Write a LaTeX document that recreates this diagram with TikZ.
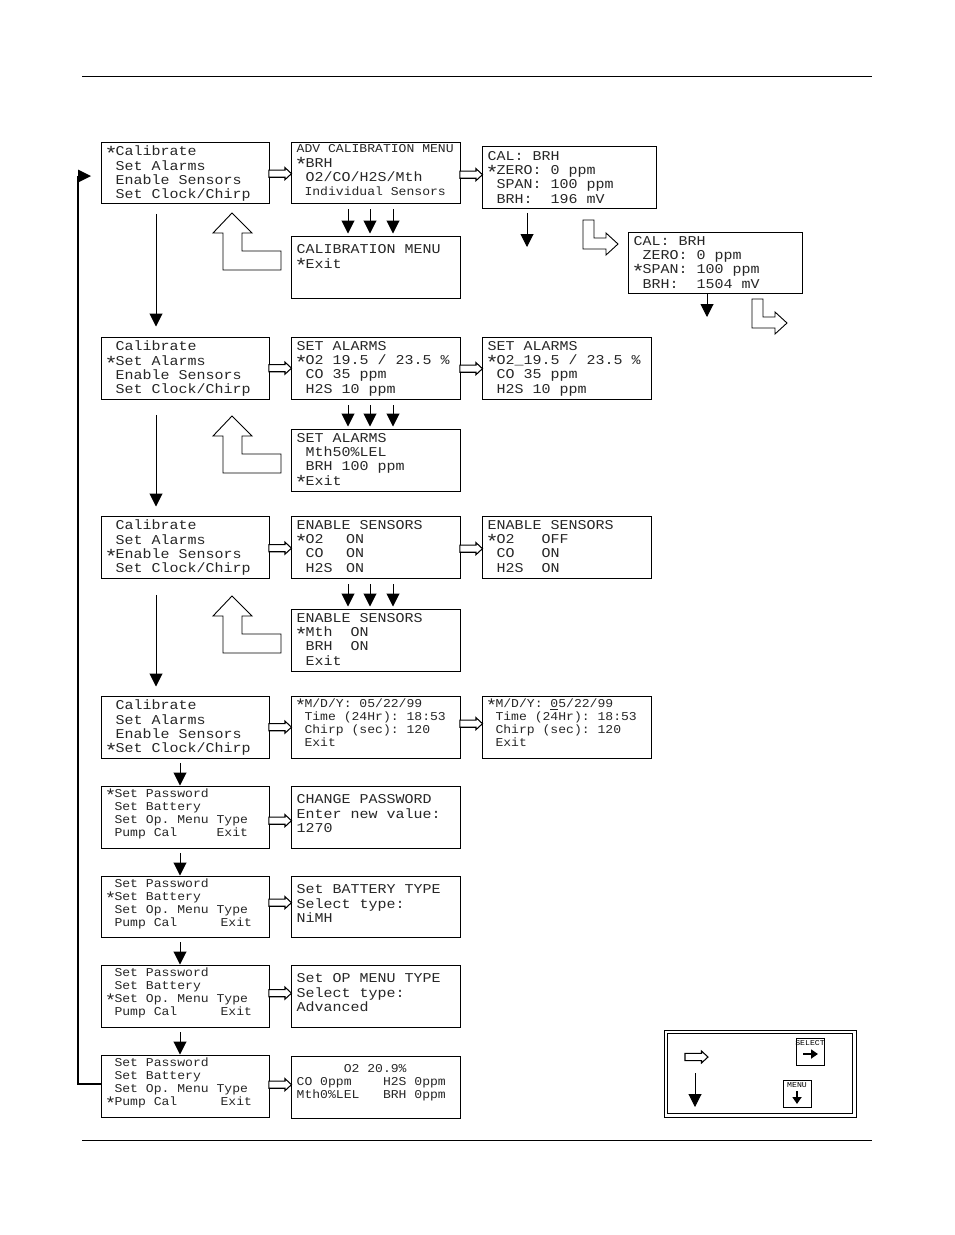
\documentclass[tikz,border=0pt]{standalone}
\usepackage{fontspec}
\usepackage{graphicx}
\usetikzlibrary{calc,arrows.meta}
\newfontfamily\famA[FakeStretch=1.11]{Liberation Mono}
\newfontfamily\famB[FakeStretch=1.09]{Liberation Mono}
\newcommand\fA{\famA\fontsize{13.5}{14.3}\selectfont\frenchspacing}
\newcommand\fB{\famB\fontsize{12}{13}\selectfont\frenchspacing}
\newcommand\fBb{\famB\fontsize{12}{14.3}\selectfont\frenchspacing}
\newcommand\st{\setbox0\hbox{*}\hbox to \wd0{\hss\smash{\raisebox{-0.36em}{\scalebox{1.45}{*}}}\hss}}
\tikzset{
  lcd/.style={draw=black,line width=1pt,inner sep=0pt},
  lcdtext/.style={anchor=north west,inner sep=0pt,align=left,text=black!85},
  big/.style={lcdtext,font=\fA,yshift=-1.5pt},
  small/.style={lcdtext,font=\fB},
  hollowarrow/.style={draw=black,line width=1.05pt,fill=white},
  bendarrow/.style={draw=black,line width=0.9pt,fill=white},
  down/.style={draw=black,line width=1pt,-{Triangle[length=13pt,width=13pt]}},
  rule/.style={draw=black,line width=1pt},
  keybox/.style={draw=black,line width=1pt,minimum width=28pt,minimum height=27pt,inner sep=0pt},
  keytext/.style={font=\famB\fontsize{7.5}{8}\selectfont,inner sep=0pt},
  keyarrow/.style={line width=2pt,-{Triangle[length=7pt,width=9pt]}}
}
% name x0 y0 x1 y1
\newcommand\lcdbox[5]{\node[lcd,minimum width={(#4-#2-0.7)*1pt},minimum height={(#5-#3-0.7)*1pt}] (#1) at ({(#2+#4-0.7)/2},{(#3+#5-0.7)/2}) {};}
\newcommand\lcdt[3]{\node[#2] (#1t) at ([shift={(6pt,-3pt)}]#1.north west) {#3};}
\newcommand\hollowshape{\draw[hollowarrow] ([yshift=3.6pt]hoS) -- ([shift={(-6.5pt,3.6pt)}]hoE) -- ([shift={(-6.5pt,6pt)}]hoE) -- (hoE) -- ([shift={(-6.5pt,-6pt)}]hoE) -- ([shift={(-6.5pt,-3.6pt)}]hoE) -- ([yshift=-3.6pt]hoS) -- cycle;}
\newcommand\hollow[3][0]{\path let \p1=(#2.east),\p2=(#3.west) in
  coordinate (hoS) at ([yshift=-#1 pt]\x1-1pt,\y1) coordinate (hoE) at ([yshift=-#1 pt]\x2+1pt,\y1);
  \hollowshape}
\begin{document}
\begin{tikzpicture}[x=1pt,y=-1pt]
\useasboundingbox (0,0) rectangle (954,1235);
\coordinate (r1l) at (82,76.7); \coordinate (r1r) at (872,76.7);
\coordinate (r2l) at (82,1140); \coordinate (r2r) at (872,1140);
\draw[rule] (r1l) -- (r1r);
\draw[rule] (r2l) -- (r2r);

\lcdbox{aa}{101}{142}{270}{204}
\lcdbox{ab}{291}{142}{461}{204}
\lcdbox{ac}{482}{146}{657}{209}
\lcdbox{ad}{291}{236}{461}{299}
\lcdbox{ae}{628}{232}{803}{294}
\lcdbox{ba}{101}{337}{270}{400}
\lcdbox{bb}{291}{337}{461}{400}
\lcdbox{bc}{482}{337}{652}{400}
\lcdbox{bd}{291}{429}{461}{492}
\lcdbox{ca}{101}{516}{270}{579}
\lcdbox{cb}{291}{516}{461}{579}
\lcdbox{cc}{482}{516}{652}{579}
\lcdbox{cd}{291}{609}{461}{672}
\lcdbox{da}{101}{696}{270}{759}
\lcdbox{db}{291}{696}{461}{759}
\lcdbox{dc}{482}{696}{652}{759}
\lcdbox{ea}{101}{786}{270}{849}
\lcdbox{eb}{291}{786}{461}{849}
\lcdbox{fa}{101}{876}{270}{938}
\lcdbox{fb}{291}{876}{461}{938}
\lcdbox{ga}{101}{965}{270}{1028}
\lcdbox{gb}{291}{965}{461}{1028}
\lcdbox{ha}{101}{1055}{270}{1118}
\lcdbox{hb}{291}{1056}{461}{1119}

\lcdt{aa}{big}{\st Calibrate\\~Set Alarms\\~Enable Sensors\\~Set Clock/Chirp}
\lcdt{ab}{big,yshift=1.5pt}{{\fBb ADV CALIBRATION MENU}\\\st BRH\\~O2/CO/H2S/Mth\\{\fBb ~Individual Sensors}}
\lcdt{ac}{big,yshift=-1pt}{CAL: BRH\\\st ZERO: 0 ppm\\~SPAN: 100 ppm\\~BRH:~~196 mV}
\lcdt{ad}{big,yshift=-4.5pt}{CALIBRATION MENU\\\st Exit}
\lcdt{ae}{big}{CAL: BRH\\~ZERO: 0 ppm\\\st SPAN: 100 ppm\\~BRH:~~1504 mV}
\lcdt{ba}{big}{~Calibrate\\\st Set Alarms\\~Enable Sensors\\~Set Clock/Chirp}
\lcdt{bb}{big}{SET ALARMS\\\st O2 19.5 / 23.5 \%\\~CO 35 ppm\\~H2S 10 ppm}
\lcdt{bc}{big}{SET ALARMS\\\st O2\_19.5 / 23.5 \%\\~CO 35 ppm\\~H2S 10 ppm}
\lcdt{bd}{big}{SET ALARMS\\~Mth50\%LEL\\~BRH 100 ppm\\\st Exit}
\lcdt{ca}{big}{~Calibrate\\~Set Alarms\\\st Enable Sensors\\~Set Clock/Chirp}
\lcdt{cb}{big}{ENABLE SENSORS\\\st O2~~\hspace{4.5pt}ON\\~CO~~\hspace{4.5pt}ON\\~H2S~\hspace{4.5pt}ON}
\lcdt{cc}{big}{ENABLE SENSORS\\\st O2~~~OFF\\~CO~~~ON\\~H2S~~ON}
\lcdt{cd}{big}{ENABLE SENSORS\\\st Mth~~ON\\~BRH~~ON\\~Exit}
\lcdt{da}{big}{~Calibrate\\~Set Alarms\\~Enable Sensors\\\st Set Clock/Chirp}
\lcdt{db}{small}{\st M/D/Y: 05/22/99\\~Time (24Hr): 18:53\\~Chirp (sec): 120\\~Exit}
\lcdt{dc}{small}{\st M/D/Y: \underline{0}5/22/99\\~Time (24Hr): 18:53\\~Chirp (sec): 120\\~Exit}
\lcdt{ea}{small}{\st Set Password\\~Set Battery\\~Set Op. Menu Type\\~Pump Cal~~~~~Exit}
\lcdt{eb}{big,yshift=-4.5pt}{CHANGE PASSWORD\\Enter new value:\\1270}
\lcdt{fa}{small}{~Set Password\\\st Set Battery\\~Set Op. Menu Type\\~Pump Cal~~~~~\hspace{4pt}Exit}
\lcdt{fb}{big,yshift=-4.5pt}{Set BATTERY TYPE\\Select type:\\NiMH}
\lcdt{ga}{small}{~Set Password\\~Set Battery\\\st Set Op. Menu Type\\~Pump Cal~~~~~\hspace{4pt}Exit}
\lcdt{gb}{big,yshift=-4.5pt}{Set OP MENU TYPE\\Select type:\\Advanced}
\lcdt{ha}{small}{~Set Password\\~Set Battery\\~Set Op. Menu Type\\\st Pump Cal~~~~~\hspace{4pt}Exit}
\lcdt{hb}{small,yshift=-5.5pt}{~~~~~~O2 20.9\%\\CO 0ppm~~~~H2S 0ppm\\Mth0\%LEL~~~BRH 0ppm}

\hollow[1]{aa}{ab}\hollow[2]{ab}{ac}
\hollow{ba}{bb}\hollow[0.5]{bb}{bc}
\hollow[1]{ca}{cb}\hollow[1.5]{cb}{cc}
\hollow{da}{db}\hollow[-3.5]{db}{dc}
\hollow[3.5]{ea}{eb}\hollow[-4]{fa}{fb}\hollow[-3]{ga}{gb}\hollow[-1.5]{ha}{hb}

% triple arrows
\foreach \u/\v in {ab/ad,bb/bd,cb/cd}{
  \foreach \o in {-27.65,-5.65,17.35}{
    \draw[down,shorten <=5.5pt,shorten >=2pt] ([xshift=\o pt]\u.south) -- ([xshift=\o pt]\u.south |- \v.north);
  }
}
% long down arrows
\draw[down,shorten <=10pt,shorten >=10pt] ([xshift=-29.15pt]aa.south) -- ([xshift=-29.15pt]aa.south |- ba.north);
\draw[down,shorten <=15pt,shorten >=9pt] ([xshift=-29.15pt]ba.south) -- ([xshift=-29.15pt]ba.south |- ca.north);
\draw[down,shorten <=16pt,shorten >=9pt] ([xshift=-29.15pt]ca.south) -- ([xshift=-29.15pt]ca.south |- da.north);
\foreach \u/\v in {da/ea,ea/fa,fa/ga,ga/ha}{
  \draw[down,shorten <=4.5pt] ([xshift=-5.15pt]\u.south) -- ([xshift=-5.15pt]\u.south |- \v.north);
}
\coordinate (acend) at (527,247);
\coordinate (aeend) at (707,317);
\draw[down,shorten <=4pt] (ac.south -| acend) -- (acend);
\draw[down] (ae.south -| aeend) -- (aeend);

% return arrows
\foreach \dy in {0,203,383}{
  \draw[bendarrow,yshift=-\dy pt] (232,213) -- (213,233) -- (223,233) -- (223,270) -- (281,270) -- (281,251) -- (242,251) -- (242,233) -- (252,233) -- cycle;
}
% bent right arrows
\foreach \dx/\dy in {0/0,169/79}{
  \draw[bendarrow,shift={(\dx pt,-\dy pt)}] (583,220) -- (594,220) -- (594,238) -- (606,238) -- (606,233) -- (618,244) -- (606,255) -- (606,249) -- (583,249) -- cycle;
}

% loop back to the top
\coordinate (loopy) at (78,1084);
\coordinate (loopt) at (78,176);
\coordinate (looptip) at (91,176);
\draw[line width=1.6pt] (ha.west |- loopy) -- (loopy) -- (loopt);
\fill[black] (78,169.5) -- (looptip) -- (78,182.5) -- cycle;

% legend
\node[draw=black,line width=1pt,minimum width=192pt,minimum height=87pt,inner sep=0pt] (legO) at (760,1073.5) {};
\node[draw=black,line width=1pt,minimum width=185.5pt,minimum height=80pt,inner sep=0pt] (legI) at (760,1073) {};
\coordinate (hoS) at (685,1057); \coordinate (hoE) at (708,1057);
\hollowshape
\coordinate (ldS) at (695,1073); \coordinate (ldE) at (695,1107);
\draw[down] (ldS) -- (ldE);
\node[keybox] (sel) at (810,1051.5) {};
\node[keytext] (selt) at (810,1043.5) {SELECT};
\coordinate (selS) at (803,1054); \coordinate (selE) at (818,1054);
\draw[keyarrow] (selS) -- (selE);
\node[keybox] (men) at (797,1093.5) {};
\node[keytext] (ment) at (797,1085) {MENU};
\coordinate (menS) at (797,1091); \coordinate (menE) at (797,1104);
\draw[keyarrow] (menS) -- (menE);
\end{tikzpicture}
\end{document}
